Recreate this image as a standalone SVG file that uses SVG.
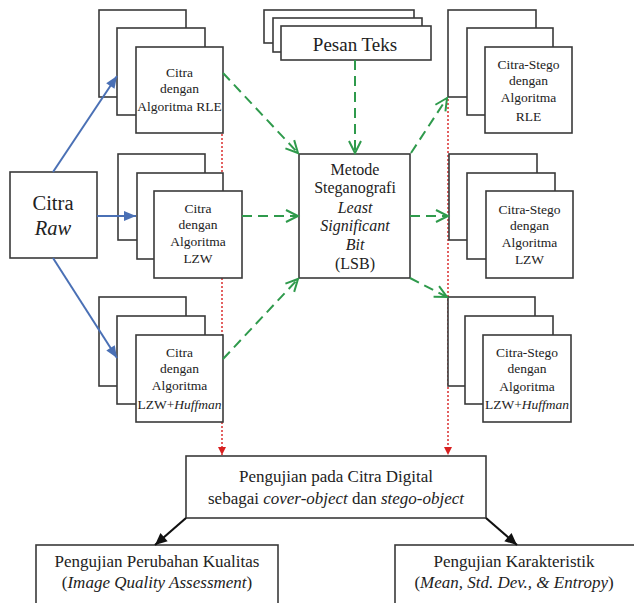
<svg xmlns="http://www.w3.org/2000/svg" width="634" height="603" viewBox="0 0 634 603" font-family="'Liberation Serif','Times New Roman',serif">
<style>
.bx{fill:#fff;stroke:#3a3a3a;stroke-width:1.6}
text{font-family:"Liberation Serif","Times New Roman",serif;fill:#222;text-anchor:middle}
.s{font-size:13.5px}
.m{font-size:16px}
.l{font-size:17px}
.i{font-style:italic}
.g{stroke:#2f9a4c;stroke-width:2;stroke-dasharray:10 6;fill:none;marker-end:url(#ag)}
.b{stroke:#4a70b5;stroke-width:2;fill:none;marker-end:url(#ab)}
.k{stroke:#111;stroke-width:2.2;fill:none;marker-end:url(#ak)}
.r{stroke:#d82020;stroke-width:1.4;stroke-dasharray:2 2;fill:none;marker-end:url(#ar)}
</style>
<defs>
<marker id="ag" markerUnits="userSpaceOnUse" markerWidth="16" markerHeight="16" refX="12" refY="6" orient="auto" overflow="visible"><path d="M0,0 L12,6 L0,12" fill="none" stroke="#2f9a4c" stroke-width="2" stroke-dasharray="none"/></marker>
<marker id="ab" markerUnits="userSpaceOnUse" markerWidth="16" markerHeight="16" refX="12" refY="5" orient="auto" overflow="visible"><path d="M0,0 L12,5 L0,10 z" fill="#4a70b5"/></marker>
<marker id="ak" markerUnits="userSpaceOnUse" markerWidth="16" markerHeight="16" refX="12" refY="5.5" orient="auto" overflow="visible"><path d="M0,0 L12,5.5 L0,11 z" fill="#111"/></marker>
<marker id="ar" markerUnits="userSpaceOnUse" markerWidth="12" markerHeight="12" refX="8" refY="4" orient="auto" overflow="visible"><path d="M0,0 L8,4 L0,8 z" fill="#d82020"/></marker>
</defs>
<rect width="634" height="603" fill="#fff"/>
<g id="connectors-behind">
<path class="r" d="M222,134 L222,455"/>
<path class="r" d="M448,99 L448,455"/>
</g>
<g id="citra-raw">
<rect class="bx" x="10" y="172" width="87" height="86"/>
<text x="53" y="210" font-size="20.5">Citra</text>
<text x="53" y="235" font-size="20.5" class="i">Raw</text>
</g>
<g id="citra-rle">
<rect class="bx" x="99" y="10" width="87" height="87"/>
<rect class="bx" x="117" y="28" width="88" height="87"/>
<rect class="bx" x="136" y="47" width="87" height="86"/>
<text class="s" x="179.5" y="77">Citra</text>
<text class="s" x="179.5" y="93">dengan</text>
<text class="s" x="179.5" y="111">Algoritma RLE</text>
</g>
<g id="citra-lzw">
<rect class="bx" x="118" y="154" width="87" height="86"/>
<rect class="bx" x="137" y="173" width="86" height="86"/>
<rect class="bx" x="154" y="191" width="88" height="87"/>
<text class="s" x="198" y="213">Citra</text>
<text class="s" x="198" y="229">dengan</text>
<text class="s" x="198" y="246">Algoritma</text>
<text class="s" x="198" y="263">LZW</text>
</g>
<g id="citra-lzw-huffman">
<rect class="bx" x="99" y="297" width="87" height="89"/>
<rect class="bx" x="117" y="316" width="88" height="88"/>
<rect class="bx" x="136" y="335" width="87" height="87"/>
<text class="s" x="179.5" y="357">Citra</text>
<text class="s" x="179.5" y="373">dengan</text>
<text class="s" x="179.5" y="390">Algoritma</text>
<text class="s" x="179.5" y="409">LZW+<tspan class="i">Huffman</tspan></text>
</g>
<g id="pesan-teks">
<rect class="bx" x="264" y="10" width="150" height="33"/>
<rect class="bx" x="273" y="18" width="149" height="34"/>
<rect class="bx" x="281" y="26" width="150" height="34"/>
<text x="355" y="51" font-size="19">Pesan Teks</text>
</g>
<g id="metode-lsb">
<rect class="bx" x="299" y="154" width="111" height="124"/>
<text class="m" x="355" y="175">Metode</text>
<text class="m" x="355" y="193">Steganografi</text>
<text class="m i" x="355" y="213">Least</text>
<text class="m i" x="355" y="231">Significant</text>
<text class="m i" x="355" y="250">Bit</text>
<text class="m" x="355" y="269">(LSB)</text>
</g>
<g id="stego-rle">
<rect class="bx" x="448" y="10" width="88" height="87"/>
<rect class="bx" x="467" y="28" width="86" height="87"/>
<rect class="bx" x="485" y="47" width="87" height="86"/>
<text class="s" x="528.5" y="69">Citra-Stego</text>
<text class="s" x="528.5" y="85">dengan</text>
<text class="s" x="528.5" y="102">Algoritma</text>
<text class="s" x="528.5" y="121">RLE</text>
</g>
<g id="stego-lzw">
<rect class="bx" x="449" y="154" width="88" height="86"/>
<rect class="bx" x="467" y="173" width="88" height="86"/>
<rect class="bx" x="486" y="191" width="87" height="87"/>
<text class="s" x="529.5" y="214">Citra-Stego</text>
<text class="s" x="529.5" y="230">dengan</text>
<text class="s" x="529.5" y="247">Algoritma</text>
<text class="s" x="529.5" y="264">LZW</text>
</g>
<g id="stego-lzw-huffman">
<rect class="bx" x="448" y="297" width="87" height="89"/>
<rect class="bx" x="465" y="316" width="88" height="88"/>
<rect class="bx" x="483" y="335" width="88" height="87"/>
<text class="s" x="527" y="357">Citra-Stego</text>
<text class="s" x="527" y="373">dengan</text>
<text class="s" x="527" y="391">Algoritma</text>
<text class="s" x="527" y="409">LZW+<tspan class="i">Huffman</tspan></text>
</g>
<g id="pengujian">
<rect class="bx" x="186" y="456" width="300" height="62"/>
<text class="l" x="336" y="482">Pengujian pada Citra Digital</text>
<text class="l" x="336" y="504">sebagai <tspan class="i">cover-object</tspan> dan <tspan class="i">stego-object</tspan></text>
</g>
<g id="kualitas">
<rect class="bx" x="36" y="545" width="242" height="70"/>
<text class="l" x="157" y="567">Pengujian Perubahan Kualitas</text>
<text class="l" x="157" y="588">(<tspan class="i">Image Quality Assessment</tspan>)</text>
</g>
<g id="karakteristik">
<rect class="bx" x="395" y="545" width="250" height="70"/>
<text class="l" x="514" y="567">Pengujian Karakteristik</text>
<text class="l" x="514" y="588">(<tspan class="i">Mean, Std. Dev., &amp; Entropy</tspan>)</text>
</g>
<g id="connectors">
<path class="b" d="M53,172 L117,76"/>
<path class="b" d="M97,216 L136,216"/>
<path class="b" d="M53,258 L117,358"/>
<path class="g" d="M223,73 L298,153"/>
<path class="g" d="M242,216 L298,216"/>
<path class="g" d="M223,359 L298,279"/>
<path class="g" d="M355,60 L355,153"/>
<path class="g" d="M411,153 L447,98"/>
<path class="g" d="M410,216 L448,216"/>
<path class="g" d="M410,278 L447,297"/>
<path class="k" d="M186,518 L155,545"/>
<path class="k" d="M486,518 L517,545"/>
</g>
</svg>
